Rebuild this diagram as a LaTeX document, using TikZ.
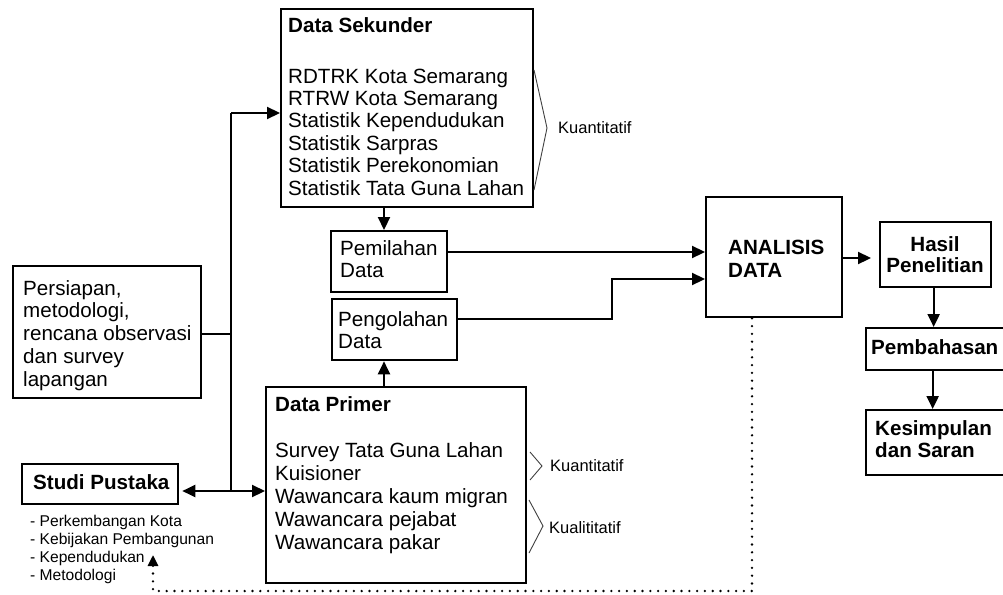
\documentclass[tikz,border=0pt]{standalone}
\usepackage{fontspec}
\setmainfont{Liberation Sans}
\usetikzlibrary{arrows.meta}
\newcommand{\stackL}[2]{\vtop{\baselineskip=#1\relax\lineskiplimit=-10pt\halign{##\hfil\cr#2\crcr}}}
\newcommand{\stackC}[2]{\vtop{\baselineskip=#1\relax\lineskiplimit=-10pt\halign{\hfil##\hfil\cr#2\crcr}}}
\tikzset{
  box/.style={draw, line width=2.3pt, inner sep=0pt, anchor=north west},
  txt/.style={inner sep=0pt, anchor=base west, font=\fontsize{20.6}{22.6}\selectfont},
  small/.style={inner sep=0pt, anchor=base west, font=\fontsize{16.5}{18}\selectfont},
  tiny/.style={inner sep=0pt, anchor=base west, font=\fontsize{15.6}{18.3}\selectfont},
  conn/.style={line width=2.2pt},
  arr/.style={line width=2.2pt, -{Triangle[length=13pt,width=12pt]}},
  brace/.style={line width=0.9pt, draw=black!75},
  dots/.style={line width=2.6pt, line cap=round, dash pattern=on 0pt off 7.8pt, -{Triangle[length=11pt,width=10pt]}}
}
\begin{document}
\begin{tikzpicture}[x=1pt,y=-1pt]
\useasboundingbox[fill=white] (0,0) rectangle (1003,594);

% boxes
\node[box, minimum width=252, minimum height=198] (sekunder) at (280,8) {};
\node[box, minimum width=188, minimum height=132] (persiapan) at (12,265) {};
\node[box, minimum width=156, minimum height=40] (studi) at (21,463) {};
\node[box, minimum width=116, minimum height=61] (pemilahan) at (330,230) {};
\node[box, minimum width=125, minimum height=61] (pengolahan) at (331,298) {};
\node[box, minimum width=260, minimum height=196] (primer) at (265,386) {};
\node[box, minimum width=136, minimum height=120] (analisis) at (705,196) {};
\node[box, minimum width=111, minimum height=65] (hasil) at (879,221) {};
\node[box, minimum width=141, minimum height=42] (pembahasan) at (865,327) {};
\node[box, minimum width=141, minimum height=65] (kesimpulan) at (865,409) {};

% texts
\node[txt] (tSek) at (288,33) {\bfseries Data Sekunder};
\node[txt] (tSekL) at (288,83) {\stackL{22.4pt}{RDTRK Kota Semarang\cr RTRW Kota Semarang\cr Statistik Kependudukan\cr Statistik Sarpras\cr Statistik Perekonomian\cr Statistik Tata Guna Lahan}};
\node[txt] (tPers) at (23,295) {\stackL{22.8pt}{Persiapan,\cr metodologi,\cr rencana observasi\cr dan survey\cr lapangan}};
\node[txt] (tStudi) at (33,489) {\bfseries Studi Pustaka};
\node[tiny] (tList) at (30,526) {\stackL{18.3pt}{- Perkembangan Kota\cr - Kebijakan Pembangunan\cr - Kependudukan\cr - Metodologi}};
\node[txt] (tPem) at (340,255) {\stackL{22pt}{Pemilahan\cr Data}};
\node[txt] (tPeng) at (338,326) {\stackL{22pt}{Pengolahan\cr Data}};
\node[txt] (tPrim) at (275,411) {\bfseries Data Primer};
\node[txt] (tPrimL) at (275,457) {\stackL{23pt}{Survey Tata Guna Lahan\cr Kuisioner\cr Wawancara kaum migran\cr Wawancara pejabat\cr Wawancara pakar}};
\node[txt] (tAna) at (728,254) {\bfseries\stackL{23pt}{ANALISIS\cr DATA}};
\node[txt, anchor=base] (tHas) at (935,251) {\bfseries\stackC{21.5pt}{Hasil\cr Penelitian}};
\node[txt] (tPemb) at (871,354) {\bfseries Pembahasan};
\node[txt] (tKes) at (875,435) {\bfseries\stackL{22pt}{Kesimpulan\cr dan Saran}};

% braces and labels
\draw[brace] (534,70) -- (547,128) -- (534,190);
\node[small] (k1) at (558,133) {Kuantitatif};
\draw[brace] (530,452) -- (542,466) -- (530,480);
\node[small] (k2) at (550,471) {Kuantitatif};
\draw[brace] (529,500) -- (543,526) -- (529,553);
\node[small] (k3) at (549,533) {Kualititatif};

% junction coordinates
\coordinate (jtop) at (231,113);
\coordinate (jmid) at (231,334);
\coordinate (jbot) at (231,491);
\coordinate (ax) at (384,0);
\coordinate (r1) at (0,252);
\coordinate (r2) at (0,319);
\coordinate (bend) at (612,0);
\coordinate (r3) at (0,279);
\coordinate (r4) at (0,258);
\coordinate (d0) at (752,0);
\coordinate (d1) at (752,591);
\coordinate (d2) at (153,591);
\coordinate (dtip) at (153,555);

% connectors
\draw[conn] (persiapan.east |- jmid) -- (jmid);
\draw[conn] (jbot) -- (jtop);
\draw[arr] (jtop) -- (jtop -| sekunder.west);
\draw[arr] (jbot) -- ([xshift=3pt]jbot -| studi.east);
\draw[arr] (jbot) -- (jbot -| primer.west);
\draw[arr] (ax |- sekunder.south) -- (ax |- pemilahan.north);
\draw[arr] (ax |- primer.north) -- (ax |- pengolahan.south);
\draw[arr] (pemilahan.east |- r1) -- (analisis.west |- r1);
\draw[arr] (pengolahan.east |- r2) -- (bend |- r2) -- (bend |- r3) -- (analisis.west |- r3);
\draw[arr] (analisis.east |- r4) -- ([xshift=-8pt]hasil.west |- r4);
\draw[arr] ([xshift=-2pt]hasil.south) -- ([xshift=-2pt]hasil.south |- pembahasan.north);
\draw[arr] ([xshift=-3pt]pembahasan.south -| hasil.south) -- ([xshift=-3pt]kesimpulan.north -| hasil.south);
\draw[dots] (d0 |- analisis.south) -- (d1) -- (d2) -- (dtip);
\end{tikzpicture}
\end{document}
